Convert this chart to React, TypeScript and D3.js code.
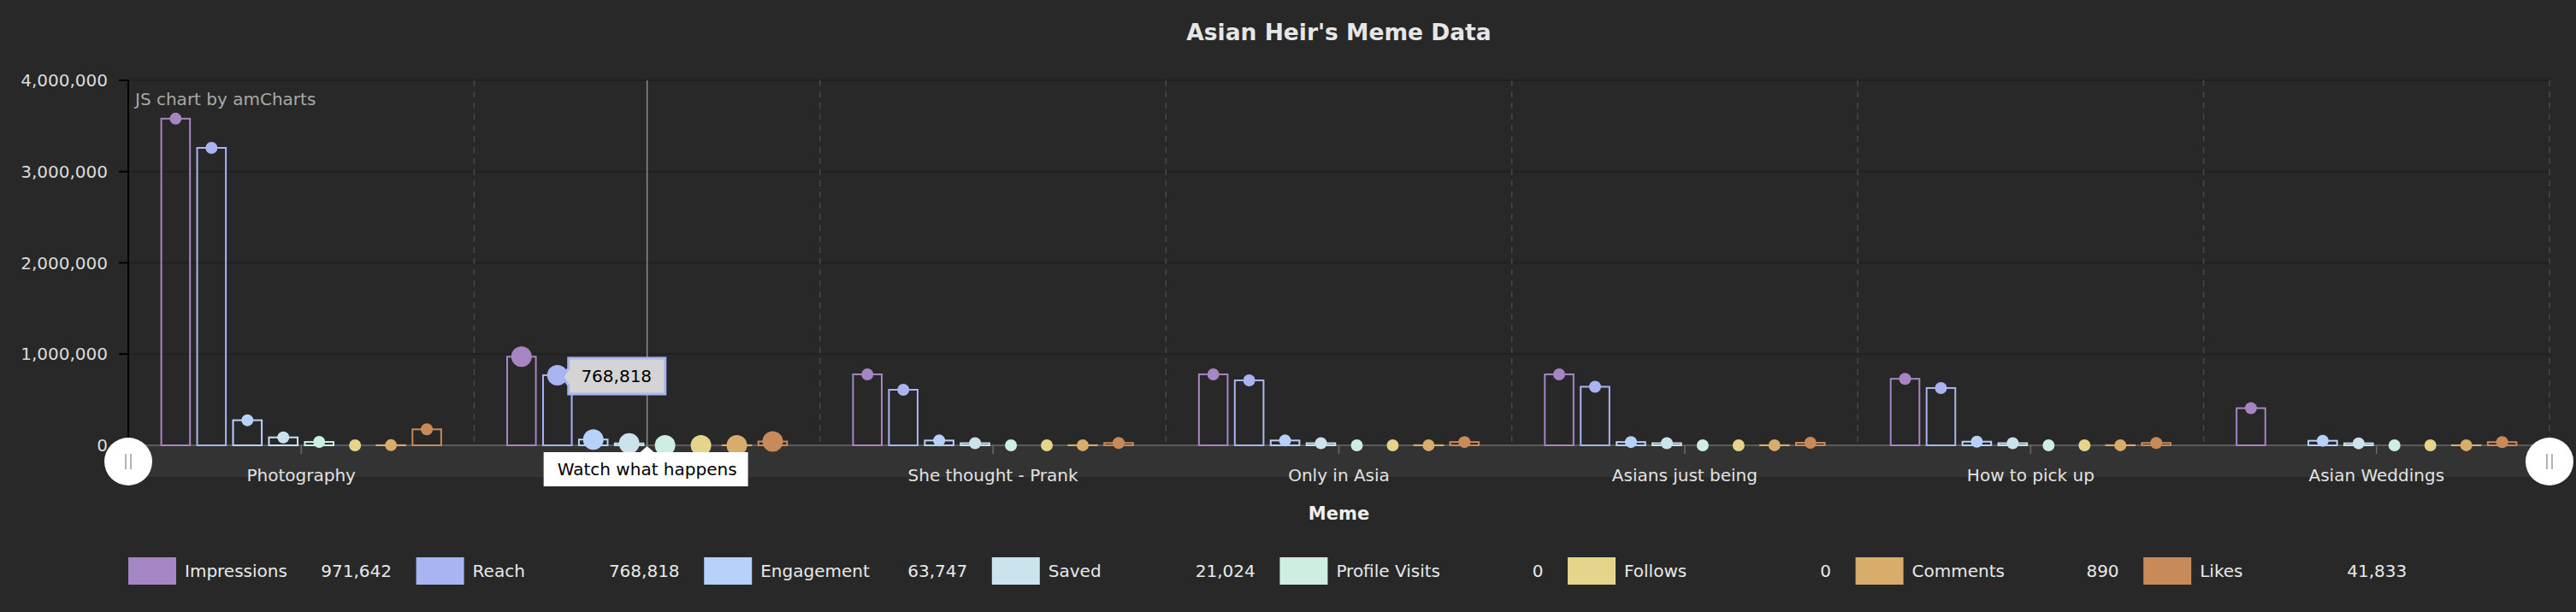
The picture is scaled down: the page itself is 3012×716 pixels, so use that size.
import React, { useEffect } from 'react';
import * as d3 from 'd3';

const categories = [
  'Photography',
  'Watch what happens',
  'She thought - Prank',
  'Only in Asia',
  'Asians just being',
  'How to pick up',
  'Asian Weddings',
];

const seriesNames = ['Impressions', 'Reach', 'Engagement', 'Saved', 'Profile Visits', 'Follows', 'Comments', 'Likes'];
const seriesColors = ['#a685c4', '#a9b4f2', '#b7d1fa', '#cbe3ed', '#cfeee2', '#e5d58c', '#d8ad6b', '#c98a5a'];

const impressions = [3580000, 971642, 778000, 778000, 778000, 729000, 407000];
const reach: (number | null)[] = [3260000, 768818, 609000, 712000, 642000, 628000, null];
const engagement = [275000, 63747, 53000, 53000, 36000, 40000, 50000];
const saved = [87000, 21024, 23000, 23000, 23000, 23000, 22000];
const profileVisits = [37000, 0, 0, 0, 0, 0, 0];
const follows = [0, 0, 0, 0, 0, 0, 0];
const comments = [1200, 890, 1000, 1000, 1000, 1000, 1000];
const likes = [175000, 41833, 26000, 36000, 28000, 26000, 35000];

const seriesValues = [impressions, reach, engagement, saved, profileVisits, follows, comments, likes];

const yTicks = [0, 1000000, 2000000, 3000000, 4000000];
const hoverIndex = 1;
const hoverSeries = 1;

const W = 3012;
const H = 716;
const FONT = '"DejaVu Sans", Verdana, sans-serif';

export default function App() {
  useEffect(() => {
    document.body.style.margin = '0';
    document.body.style.background = '#282828';
  }, []);

  const left = 150, right = 2981, top = 94, bottom = 521;
  const x = d3.scaleBand().domain(categories).range([left, right]).paddingInner(0).paddingOuter(0);
  const bw = x.bandwidth();
  const xs = d3.scaleBand().domain(seriesNames).range([0.085 * bw, 0.915 * bw]).paddingInner(0.2).paddingOuter(0.1);
  const y = d3.scaleLinear().domain([0, 4000000]).range([bottom, top]);
  const fmt = d3.format(',');

  const hx = x(categories[hoverIndex])! + bw / 2;
  const tipSx = x(categories[hoverIndex])! + xs(seriesNames[hoverSeries])! + xs.bandwidth() / 2;
  const tipSy = y(seriesValues[hoverSeries][hoverIndex] as number);

  return (
    <svg width={W} height={H} style={{ display: 'block', background: '#282828' }} fontFamily={FONT}>
      <rect x={0} y={0} width={W} height={H} fill="#282828" />
      {/* title */}
      <text x={(left + right) / 2} y={47} textAnchor="middle" fontSize={26.5} fontWeight="bold" fill="#e6e6e6">
        Asian Heir's Meme Data
      </text>

      {/* horizontal grid */}
      {yTicks.slice(1).map(t => (
        <line key={t} x1={left} x2={right} y1={y(t)} y2={y(t)} stroke="#202020" strokeWidth={2} />
      ))}
      {/* dashed category grid */}
      {categories.map(c => (
        <line key={c} x1={x(c)! + bw} x2={x(c)! + bw} y1={top} y2={bottom} stroke="#474747" strokeWidth={1.5} strokeDasharray="7,6" />
      ))}

      {/* scrollbar band */}
      <rect x={left} y={522} width={right - left} height={36} fill="#333333" />

      {/* category axis line */}
      <line x1={left} x2={right} y1={bottom} y2={bottom} stroke="#5a5a5a" strokeWidth={2} />
      {categories.map(c => (
        <line key={c} x1={x(c)! + bw / 2} x2={x(c)! + bw / 2} y1={bottom} y2={bottom + 10} stroke="#6a6a6a" strokeWidth={1.5} />
      ))}

      {/* y axis */}
      <line x1={left} x2={left} y1={top} y2={bottom} stroke="#000" strokeWidth={2} />
      {yTicks.map(t => (
        <g key={t}>
          <line x1={left - 11} x2={left} y1={y(t)} y2={y(t)} stroke="#000" strokeWidth={2} />
          <text x={126} y={y(t)} dy="0.36em" textAnchor="end" fontSize={20} fill="#dcdcdc">
            {fmt(t)}
          </text>
        </g>
      ))}

      <text x={158} y={123} fontSize={20} fill="#a8a8a8">JS chart by amCharts</text>

      {/* bars */}
      {categories.map((c, ci) => (
        <g key={c} transform={`translate(${x(c)},0)`}>
          {seriesNames.map((s, si) => {
            const v = seriesValues[si][ci];
            if (v === null || v === undefined) return null;
            const bx = xs(s)!;
            return (
              <rect key={s} x={bx} y={y(v)} width={xs.bandwidth()} height={y(0) - y(v)} fill="none" stroke={seriesColors[si]} strokeWidth={2} />
            );
          })}
        </g>
      ))}

      {/* cursor */}
      <line x1={hx} x2={hx} y1={top} y2={bottom} stroke="#8c8c8c" strokeWidth={1.5} />

      {/* bullets */}
      {categories.map((c, ci) => (
        <g key={c} transform={`translate(${x(c)},0)`}>
          {seriesNames.map((s, si) => {
            const v = seriesValues[si][ci];
            if (v === null || v === undefined) return null;
            return (
              <circle key={s} cx={xs(s)! + xs.bandwidth() / 2} cy={y(v)} r={ci === hoverIndex ? 12 : 7} fill={seriesColors[si]} />
            );
          })}
        </g>
      ))}

      {/* value tooltip */}
      <g>
        <path
          d={`M${tipSx + 6},${tipSy + 2} L${tipSx + 13},${tipSy - 8} L${tipSx + 13},${tipSy - 20} L${tipSx + 126},${tipSy - 20} L${tipSx + 126},${tipSy + 22} L${tipSx + 13},${tipSy + 22} L${tipSx + 13},${tipSy + 12} Z`}
          fill="#d4d4d4"
          stroke={seriesColors[hoverSeries]}
          strokeWidth={3}
        />
        <text x={tipSx + 69} y={tipSy + 8} textAnchor="middle" fontSize={20} fill="#000">
          {fmt(seriesValues[hoverSeries][hoverIndex] as number)}
        </text>
      </g>

      {/* category labels */}
      {categories.map((c, ci) =>
        ci === hoverIndex ? null : (
          <text key={c} x={x(c)! + bw / 2} y={563} textAnchor="middle" fontSize={20} fill="#e2e2e2">
            {c}
          </text>
        )
      )}

      {/* category tooltip */}
      <path d={`M${hx},${bottom + 1} L${hx + 8},529 L${hx + 118},529 L${hx + 118},569 L${hx - 121},569 L${hx - 121},529 L${hx - 8},529 Z`} fill="#ffffff" />
      <text x={hx} y={556} textAnchor="middle" fontSize={20} fill="#000">
        {categories[hoverIndex]}
      </text>

      {/* scrollbar grips */}
      {[left, right].map(gx => (
        <g key={gx}>
          <circle cx={gx} cy={540} r={28} fill="#ffffff" />
          <line x1={gx - 3} x2={gx - 3} y1={531} y2={549} stroke="#9a9a9a" strokeWidth={1.5} />
          <line x1={gx + 3} x2={gx + 3} y1={531} y2={549} stroke="#9a9a9a" strokeWidth={1.5} />
        </g>
      ))}

      {/* axis title */}
      <text x={(left + right) / 2} y={608} textAnchor="middle" fontSize={21} fontWeight="bold" fill="#f0f0f0">
        Meme
      </text>

      {/* legend */}
      {seriesNames.map((s, si) => {
        const lx = 150 + si * 336.6;
        const v = seriesValues[si][hoverIndex] as number;
        return (
          <g key={s}>
            <rect x={lx} y={652} width={56} height={32} fill={seriesColors[si]} />
            <text x={lx + 66} y={675} fontSize={20} fill="#e8e8e8">{s}</text>
            <text x={lx + 308} y={675} textAnchor="end" fontSize={20} fill="#e8e8e8">{fmt(v)}</text>
          </g>
        );
      })}
    </svg>
  );
}
